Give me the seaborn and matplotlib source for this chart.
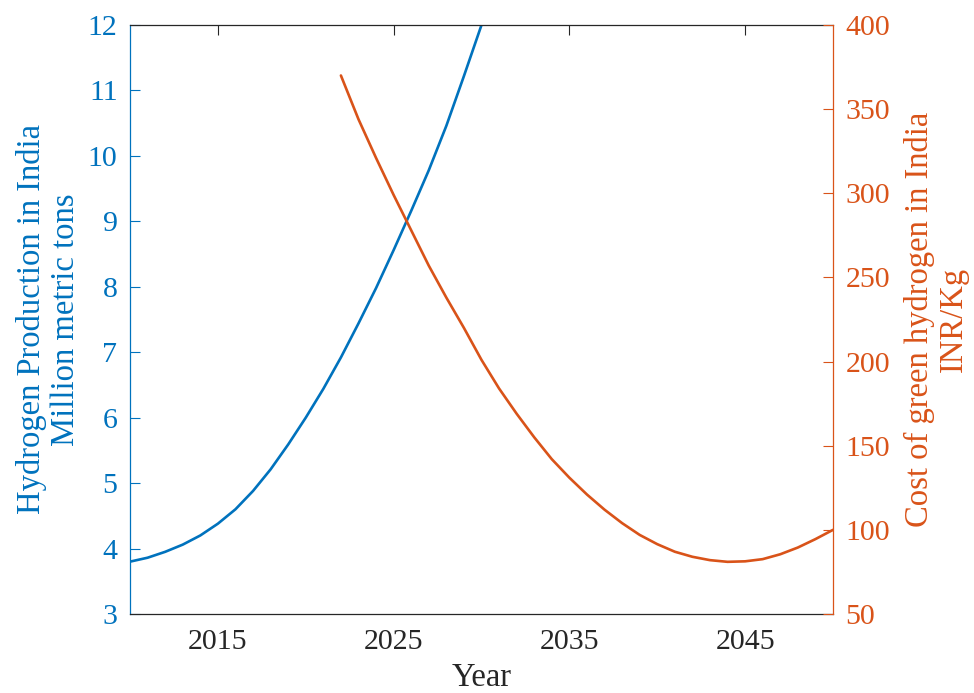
import numpy as np
import pandas as pd
import matplotlib
matplotlib.use("Agg")
import matplotlib.pyplot as plt
import seaborn as sns

# values
prod_years = [2010, 2011, 2012, 2013, 2014, 2015, 2016, 2017, 2018, 2019, 2020,
              2021, 2022, 2023, 2024, 2025, 2026, 2027, 2028, 2029, 2030]
h2_production = [3.80, 3.86, 3.95, 4.06, 4.20, 4.38, 4.60, 4.88, 5.21, 5.59, 6.00,
                 6.44, 6.92, 7.44, 7.98, 8.56, 9.16, 9.78, 10.46, 11.22, 12.00]

cost_years = [2022, 2023, 2024, 2025, 2026, 2027, 2028, 2029, 2030, 2031, 2032,
              2033, 2034, 2035, 2036, 2037, 2038, 2039, 2040, 2041, 2042, 2043,
              2044, 2045, 2046, 2047, 2048, 2049, 2050]
h2_cost = [370, 344, 321, 299, 278, 257, 238, 220, 201, 184, 169,
           155, 142, 131, 121, 112, 104, 97, 91.5, 87, 84, 82,
           81, 81.3, 82.6, 85.5, 89.5, 94.5, 100]

x_ticks = [2015, 2025, 2035, 2045]

blue = "#0072BD"
orange = "#D95319"
dark = "#262626"

sns.set_style("white")
plt.rcParams["font.family"] = ["Liberation Serif", "DejaVu Serif"]

df_prod = pd.DataFrame({"Year": prod_years, "prod": h2_production})
df_cost = pd.DataFrame({"Year": cost_years, "cost": h2_cost})

fig = plt.figure(figsize=(9.74, 6.93), dpi=100)
ax = fig.add_axes([130 / 974, 1 - 614 / 693, 703 / 974, 589 / 693])
ax2 = ax.twinx()

sns.lineplot(data=df_prod, x="Year", y="prod", ax=ax, color=blue, linewidth=1.9)
sns.lineplot(data=df_cost, x="Year", y="cost", ax=ax2, color=orange, linewidth=1.9)

ax.set_xlim(2010, 2050)
ax.set_xticks(x_ticks)
ax.set_ylim(3, 12)
ax.set_yticks(range(3, 13))
ax2.set_ylim(50, 400)
ax2.set_yticks(range(50, 401, 50))

fs = 21.5
lfs = 23.5
ax.tick_params(axis="x", direction="in", length=7, width=0.8, color=dark,
               labelcolor=dark, labelsize=fs, top=True, pad=11)
ax.tick_params(axis="y", direction="in", length=7, width=0.8, color=blue,
               labelcolor=blue, labelsize=fs, pad=9, right=False)
ax2.tick_params(axis="y", direction="in", length=7, width=0.8, color=orange,
                labelcolor=orange, labelsize=fs, pad=9)

for s in ["top", "bottom"]:
    ax.spines[s].set_color(dark)
    ax.spines[s].set_linewidth(0.9)
    ax2.spines[s].set_visible(False)
ax.spines["left"].set_color(blue)
ax.spines["left"].set_linewidth(0.9)
ax.spines["right"].set_visible(False)
ax2.spines["left"].set_visible(False)
ax2.spines["right"].set_color(orange)
ax2.spines["right"].set_linewidth(0.9)

ax.set_xlabel("Year", fontsize=lfs, color=dark, labelpad=5)
ax.set_ylabel("Hydrogen Production in India\nMillion metric tons",
              fontsize=lfs, color=blue, labelpad=5, linespacing=1.15)
ax2.set_ylabel("Cost of green hydrogen in India\nINR/Kg",
               fontsize=lfs, color=orange, labelpad=10, linespacing=1.15)

fig.savefig("out.png", dpi=100)
